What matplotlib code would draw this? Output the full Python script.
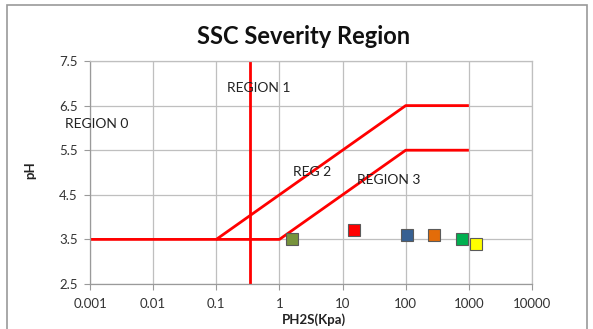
import matplotlib
matplotlib.use("Agg")
import matplotlib.pyplot as plt
from matplotlib.patches import Rectangle
from matplotlib.transforms import blended_transform_factory

plt.rcParams['font.family'] = ['Lato', 'DejaVu Sans']

# boundary lines
upper_x = [0.001, 0.1, 100, 1000]
upper_y = [3.5, 3.5, 6.5, 6.5]
lower_x = [0.1, 1, 100, 1000]
lower_y = [3.5, 3.5, 5.5, 5.5]
vline_x = 0.345

# sample points
pts_x = [1.6, 15, 105, 280, 780, 1300]
pts_y = [3.5, 3.7, 3.6, 3.6, 3.5, 3.4]
pts_c = ['#77933C', '#FF0000', '#376092', '#E36C09', '#00B050', '#FFFF00']

labels = ['REGION 0', 'REGION 1', 'REG 2', 'REGION 3']
label_x = [None, 0.15, 1.62, 16.7]
label_y = [6.08, 6.89, 5.02, 4.84]

xticks = [0.001, 0.01, 0.1, 1, 10, 100, 1000, 10000]
xtick_labels = ['0.001', '0.01', '0.1', '1', '10', '100', '1000', '10000']
yticks = [2.5, 3.5, 4.5, 5.5, 6.5, 7.5]
ytick_labels = ['2.5', '3.5', '4.5', '5.5', '6.5', '7.5']

W, H = 593, 329
fig = plt.figure(figsize=(W/100, H/100), dpi=100)
ax = fig.add_axes([90/W, 1-284/H, (532-90)/W, (284-61)/H])

ax.set_xscale('log')
ax.set_xlim(0.001, 10000)
ax.set_ylim(2.5, 7.5)
ax.set_xticks(xticks)
ax.set_xticklabels(xtick_labels)
ax.set_yticks(yticks)
ax.set_yticklabels(ytick_labels)
ax.minorticks_off()
ax.grid(True, color='#BFBFBF', linewidth=0.9)
ax.set_axisbelow(True)
for s in ax.spines.values():
    s.set_color('#BFBFBF')
    s.set_linewidth(0.9)
ax.spines['left'].set_color('#9A9A9A')
ax.spines['bottom'].set_color('#9A9A9A')
ax.tick_params(axis='both', labelsize=9.5, length=4, color='#9A9A9A', labelcolor='#333333')
ax.tick_params(axis='x', pad=6)
ax.tick_params(axis='y', pad=5)

ax.plot(upper_x, upper_y, color='#FF0000', linewidth=2.0, solid_capstyle='butt')
ax.plot(lower_x, lower_y, color='#FF0000', linewidth=2.0, solid_capstyle='butt')
ax.axvline(vline_x, color='#FF0000', linewidth=2.0)

for x, y, c in zip(pts_x, pts_y, pts_c):
    ax.plot(x, y, marker='s', markersize=8.8, color=c, markeredgecolor='#5A5A5A',
            markeredgewidth=0.8, linestyle='none', clip_on=False)

blend = blended_transform_factory(fig.transFigure, ax.transData)
for i, (t, y) in enumerate(zip(labels, label_y)):
    if label_x[i] is None:
        ax.text(65/W, y, t, transform=blend, fontsize=10, color='#222222',
                va='center', ha='left')
    else:
        ax.text(label_x[i], y, t, fontsize=10, color='#222222', va='center', ha='left')

fig.text(304/W, 1-37/H, 'SSC Severity Region', fontsize=17, fontweight='bold',
         ha='center', va='center', color='#111111')
fig.text(30/W, 1-170/H, 'pH', fontsize=9.5, fontweight='bold', rotation=90,
         ha='center', va='center', color='#222222')
fig.text(314/W, 1-320/H, 'PH2S(Kpa)', fontsize=9.5, fontweight='bold',
         ha='center', va='center', color='#222222')

fig.patches.append(Rectangle((7/W, -0.05), (587-7)/W, 1.05 - 5/H, transform=fig.transFigure,
                             fill=False, edgecolor='#999999', linewidth=1.2))

fig.savefig('out.png', dpi=100)
